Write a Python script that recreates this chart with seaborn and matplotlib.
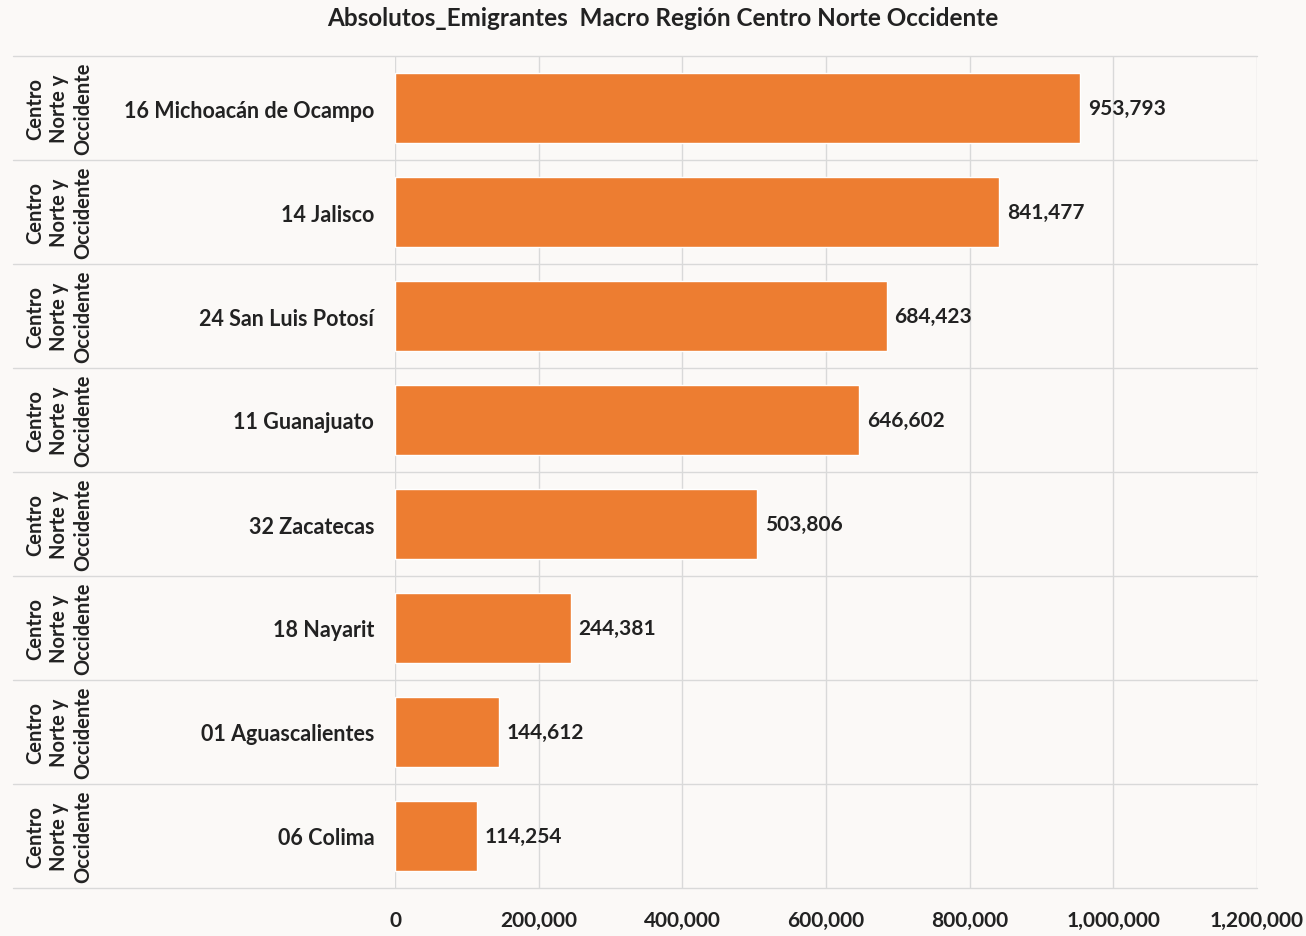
import matplotlib
matplotlib.use("Agg")
import matplotlib.pyplot as plt
import matplotlib.transforms as mtransforms
import seaborn as sns
import pandas as pd

states = ["16 Michoacán de Ocampo", "14 Jalisco", "24 San Luis Potosí", "11 Guanajuato",
          "32 Zacatecas", "18 Nayarit", "01 Aguascalientes", "06 Colima"]
values = [953793, 841477, 684423, 646602, 503806, 244381, 144612, 114254]
region = "Centro\nNorte y\nOccidente"
xticks = [0, 200000, 400000, 600000, 800000, 1000000, 1200000]
title = "Absolutos_Emigrantes  Macro Región Centro Norte Occidente"

sns.set_theme(style="white")
plt.rcParams['font.family'] = ['Lato', 'DejaVu Sans']

bg = "#FBF9F7"
fig = plt.figure(figsize=(13.06, 9.37), dpi=100, facecolor=bg)
ax = fig.add_axes([395/1306, 1-889/937, (1257-395)/1306, (889-57)/937])
ax.set_facecolor(bg)
ax.set_axisbelow(True)

df = pd.DataFrame({"state": states, "value": values})
sns.barplot(data=df, y="state", x="value", orient="h", color="#ED7D31",
            saturation=1, width=0.68, ax=ax, zorder=2)

ax.set_xlim(0, 1200000)
ax.set_ylim(len(states) - 0.5, -0.5)
ax.set_xticks(xticks)
ax.set_xticklabels([f"{v:,}" for v in xticks], fontsize=15, fontweight="bold", color="#222222")
ax.tick_params(axis="x", length=0, pad=16)
ax.set_yticks(range(len(states)))
ax.set_yticklabels(states, fontsize=15.5, fontweight="bold", color="#222222")
ax.tick_params(axis="y", length=0, pad=15)
ax.set_xlabel("")
ax.set_ylabel("")
for s in ax.spines.values():
    s.set_visible(False)

gc = "#D9D9D9"
for x in xticks:
    ax.axvline(x, color=gc, lw=1, zorder=0)

trans = mtransforms.blended_transform_factory(ax.transAxes, ax.transData)
x0 = (13 - 395) / (1257 - 395)
for i in range(len(states) + 1):
    y = i - 0.5
    ax.plot([x0, 1], [y, y], transform=trans, color=gc, lw=1, clip_on=False, zorder=0)

xl = (59 - 395) / (1257 - 395)
for i in range(len(states)):
    ax.text(xl, i, region, transform=trans, rotation=90, ha="center", va="center",
            fontsize=14.5, fontweight="bold", color="#222222", linespacing=1.25)

for i, v in enumerate(values):
    ax.text(v + 11000, i, f"{v:,}", va="center", ha="left", fontsize=15,
            fontweight="bold", color="#222222")

fig.text(663/1306, 1-18/937, title, ha="center", va="center", fontsize=17.5,
         fontweight="bold", color="#222222")

fig.savefig("out.png", dpi=100, facecolor=bg)
